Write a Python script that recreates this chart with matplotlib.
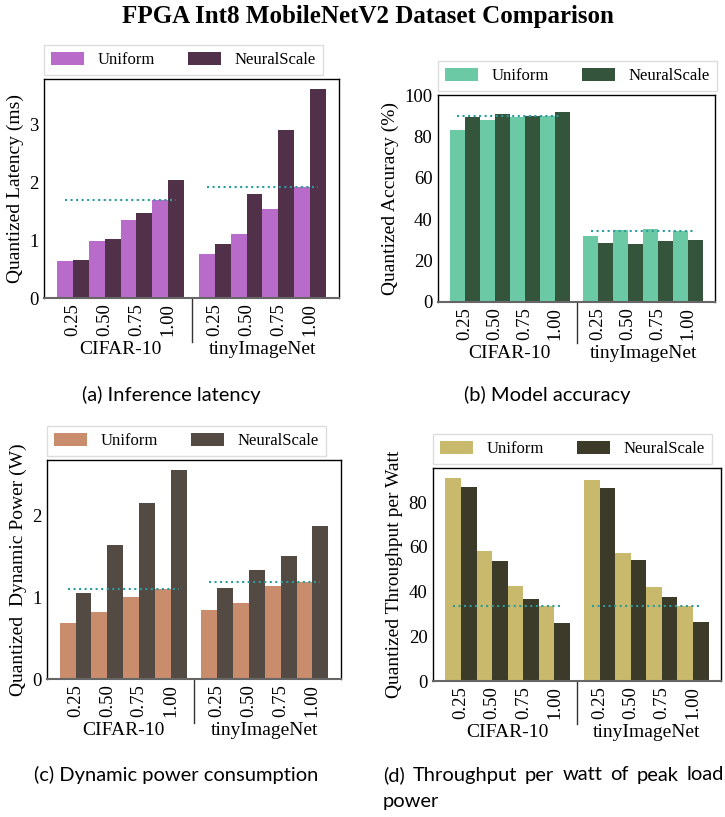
import numpy as np
import matplotlib
matplotlib.use('Agg')
import matplotlib.pyplot as plt
from matplotlib.transforms import blended_transform_factory

plt.rcParams['font.family'] = ['Liberation Serif', 'DejaVu Serif']

W, H = 725, 817

datasets = ['CIFAR-10', 'tinyImageNet']
widths = ['0.25', '0.50', '0.75', '1.00']
series = ['Uniform', 'NeuralScale']

# inference latency (ms)
lat_uniform = [0.64, 0.98, 1.35, 1.69, 0.76, 1.10, 1.54, 1.92]
lat_neural = [0.65, 1.02, 1.47, 2.04, 0.93, 1.80, 2.90, 3.60]

# model accuracy (%)
acc_uniform = [83.1, 87.9, 89.6, 89.8, 31.8, 34.6, 35.2, 34.5]
acc_neural = [89.4, 90.8, 89.7, 91.8, 28.4, 27.9, 29.4, 29.8]

# dynamic power (W)
pow_uniform = [0.69, 0.82, 1.00, 1.10, 0.84, 0.93, 1.14, 1.18]
pow_neural = [1.05, 1.64, 2.15, 2.55, 1.11, 1.33, 1.50, 1.87]

# throughput per watt
tpw_uniform = [90.8, 58.0, 42.4, 33.6, 89.9, 57.4, 41.9, 33.4]
tpw_neural = [86.9, 53.5, 36.6, 25.9, 86.4, 54.3, 37.8, 26.6]

gap = 1.45
pos = np.array([0, 1, 2, 3, 3 + gap, 4 + gap, 5 + gap, 6 + gap])
bar_w = 0.5
teal = '#2b9c9c'


def px_axes(x0, y0, x1, y1):
    return fig.add_axes([x0 / W, 1 - y1 / H, (x1 - x0) / W, (y1 - y0) / H])


def panel(ax, uni, neu, colors, ylabel, ylim=None, yticks=None):
    ax.bar(pos - bar_w / 2, uni, bar_w, color=colors[0], label=series[0])
    ax.bar(pos + bar_w / 2, neu, bar_w, color=colors[1], label=series[1])
    # reference level: uniform model at full width
    for g in range(2):
        p = pos[g * 4:(g + 1) * 4]
        ref = uni[g * 4 + 3]
        ax.plot([p[0] - 0.25, p[-1] + 0.25], [ref, ref], ls=':', lw=1.5, color=teal)
    ax.set_xlim(pos[0] - 0.9, pos[-1] + 0.9)
    if ylim is not None:
        ax.set_ylim(*ylim)
    else:
        ax.set_ylim(0, max(max(uni), max(neu)) * 1.05)
    if yticks is not None:
        ax.set_yticks(yticks)
    ax.set_xticks(pos)
    ax.set_xticklabels(widths * 2, rotation=90)
    ax.tick_params(axis='both', length=0, labelsize=13.5, pad=4)
    ax.set_ylabel(ylabel, fontsize=14, labelpad=4)
    ax.spines['bottom'].set_color('#666666')
    ax.spines['bottom'].set_linewidth(1.5)
    for s in ['top', 'left', 'right']:
        ax.spines[s].set_linewidth(1.0)

    # divider between the two datasets and their names under the ticks
    tr = blended_transform_factory(ax.transData, ax.transAxes)
    sep = (pos[3] + pos[4]) / 2
    ax.plot([sep, sep], [0, -0.2], transform=tr, color='#333333', lw=1.0, clip_on=False)
    for g, name in enumerate(datasets):
        cx = pos[g * 4:(g + 1) * 4].mean()
        ax.annotate(name, xy=(cx, 0), xycoords=tr, xytext=(0, -37),
                    textcoords='offset points', ha='center', va='center', fontsize=14)

    ax.legend(loc='lower left', bbox_to_anchor=(0, 1.02), ncol=2, fontsize=12,
              frameon=True, fancybox=False, edgecolor='#dddddd', framealpha=1,
              handlelength=2.0, handleheight=0.8, columnspacing=2.0,
              handletextpad=0.8, borderaxespad=0)


fig = plt.figure(figsize=(W / 100, H / 100), dpi=100)

ax_a = px_axes(44, 79, 339, 298)
panel(ax_a, lat_uniform, lat_neural, ['#b96bc9', '#513049'],
      'Quantized Latency (ms)', yticks=[0, 1, 2, 3])

ax_b = px_axes(438, 95, 715, 302)
panel(ax_b, acc_uniform, acc_neural, ['#6cc9a6', '#34543b'],
      'Quantized Accuracy (%)', ylim=(0, 100), yticks=range(0, 101, 20))

ax_c = px_axes(47, 460, 341, 679)
panel(ax_c, pow_uniform, pow_neural, ['#c98c6c', '#544a44'],
      'Quantized  Dynamic Power (W)', yticks=[0, 1, 2])

ax_d = px_axes(433, 468, 721, 681)
panel(ax_d, tpw_uniform, tpw_neural, ['#c9b96c', '#3c3a29'],
      'Quantized Throughput per Watt', yticks=range(0, 81, 20))

fig.text(368 / W, 1 - 16 / H, 'FPGA Int8 MobileNetV2 Dataset Comparison',
         ha='center', va='center', fontsize=18, fontweight='bold')

cap = dict(fontsize=14.5, family=['Lato', 'DejaVu Sans'], va='center')
fig.text(171 / W, 1 - 395 / H, '(a) Inference latency', ha='center', **cap)
fig.text(547 / W, 1 - 395 / H, '(b) Model accuracy', ha='center', **cap)
fig.text(176 / W, 1 - 775 / H, '(c) Dynamic power consumption', ha='center', **cap)

# caption (d): first line justified between x0 and x1, second line left aligned
x0, x1 = 383, 724
words = '(d) Throughput per watt of peak load'.split()
renderer = fig.canvas.get_renderer()
texts = [fig.text(0, 1 - 775 / H, w, ha='left', **cap) for w in words]
word_w = [t.get_window_extent(renderer).width for t in texts]
space = (x1 - x0 - sum(word_w)) / (len(words) - 1)
x = x0
for t, ww in zip(texts, word_w):
    t.set_x(x / W)
    x += ww + space
fig.text(x0 / W, 1 - 802 / H, 'power', ha='left', **cap)

fig.savefig('out.png', dpi=100)
